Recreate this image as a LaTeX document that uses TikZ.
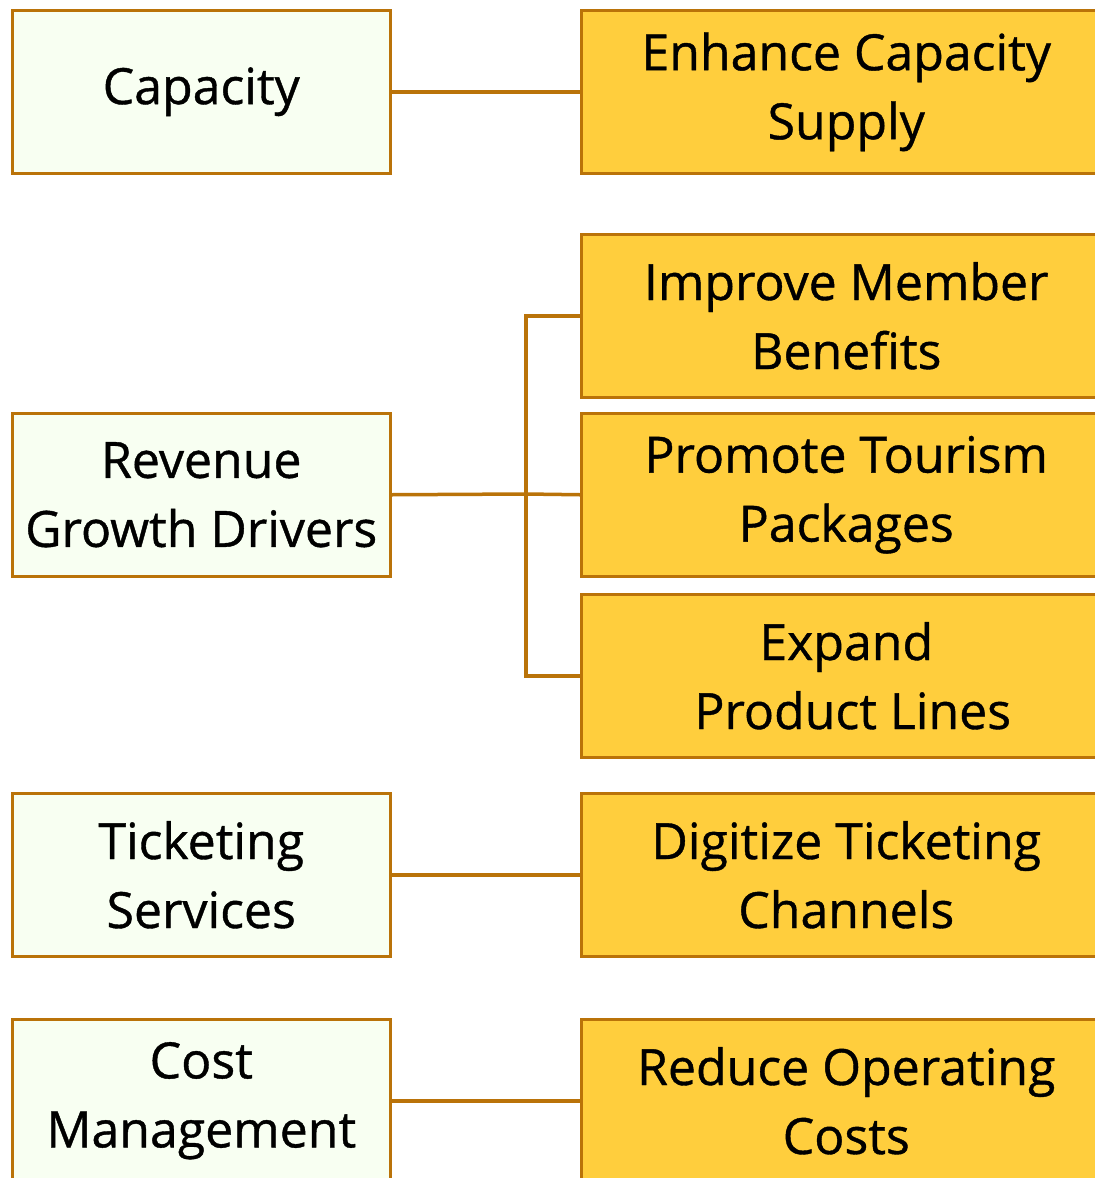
\documentclass[tikz,border=0pt]{standalone}
\usepackage{fontspec}
\setmainfont{Open Sans}[FakeBold=0.8]
\definecolor{edgec}{HTML}{BA7309}
\definecolor{leftfill}{HTML}{F8FFF2}
\definecolor{rightfill}{HTML}{FFCE3D}
\begin{document}
\begin{tikzpicture}[x=1pt,y=-1pt,
  box/.style={draw=edgec, line width=2.5pt, minimum width=378pt, minimum height=163pt, inner sep=0pt,
    align=center, font=\fontsize{50}{69}\selectfont, anchor=north west},
  leftbox/.style={box, fill=leftfill},
  rightbox/.style={box, fill=rightfill, minimum width=530pt},
  conn/.style={draw=edgec, line width=3.5pt}]
\useasboundingbox (0,0) rectangle (1095,1178);
\node[leftbox] (cap) at (11,9) {Capacity};
\node[leftbox] (rev) at (11,412) {Revenue\\Growth Drivers};
\node[leftbox] (tic) at (11,792) {Ticketing\\Services};
\node[leftbox] (cost) at (11,1018) {Cost\\Management};
\node[rightbox] (enh) at (580,9) {Enhance Capacity\\Supply};
\node[rightbox] (imp) at (580,233) {Improve Member\\Benefits};
\node[rightbox] (pro) at (580,412) {Promote Tourism\\Packages};
\node[rightbox] (exp) at (580,593) {Expand\\\ Product Lines};
\node[rightbox] (dig) at (580,792) {Digitize Ticketing\\Channels};
\node[rightbox] (red) at (580,1018) {Reduce Operating\\Costs};
\coordinate (br) at (526,494);
\draw[conn] (cap.east) -- (enh.west);
\draw[conn] (tic.east) -- (dig.west);
\draw[conn] (cost.east) -- (red.west);
\draw[conn] (rev.east) -- (br) -- (pro.west);
\draw[conn] (imp.west) -- (imp.west -| br) -- (exp.west -| br) -- (exp.west);
\end{tikzpicture}
\end{document}
